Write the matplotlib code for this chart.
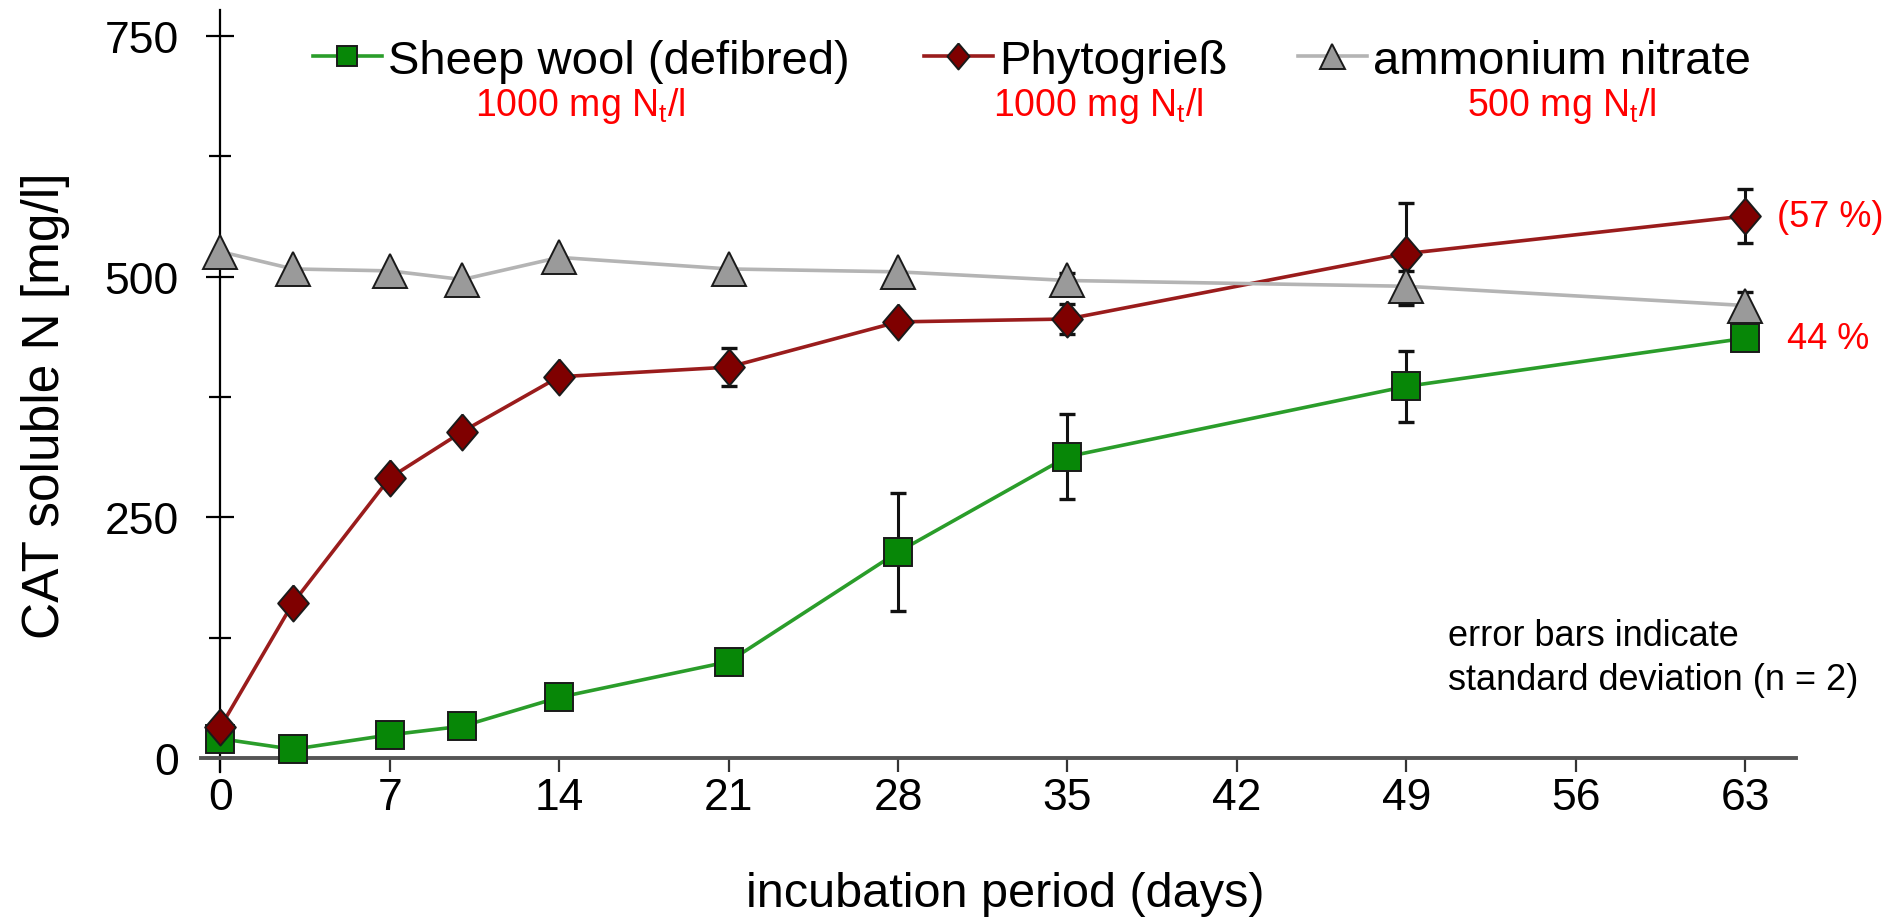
import numpy as np
import matplotlib
matplotlib.use("Agg")
import matplotlib.pyplot as plt

plt.rcParams['font.family'] = ['Liberation Sans', 'DejaVu Sans']
plt.rcParams['mathtext.fontset'] = 'custom'
plt.rcParams['mathtext.rm'] = 'Liberation Sans'
plt.rcParams['mathtext.it'] = 'Liberation Sans:italic'

# incubation days and CAT soluble N (mg/l), means and standard deviations
days = [0, 3, 7, 10, 14, 21, 28, 35, 49, 63]
wool = [20, 9, 24, 33, 63, 100, 214, 313, 386, 436]
wool_sd = [0, 0, 0, 0, 0, 0, 61, 44, 37, 8]
phyto = [32, 161, 291, 339, 396, 406, 453, 456, 524, 563]
phyto_sd = [0, 0, 0, 0, 0, 20, 0, 16, 53, 28]
nitrate = [526, 508, 506, 497, 520, 508, 505, 496, 490, 470]
nitrate_sd = [0, 0, 0, 0, 0, 0, 0, 8, 16, 14]

names = ['Sheep wool (defibred)', 'Phytogrieß', 'ammonium nitrate']
doses = [r'1000 mg N$_{\mathrm{t}}$/l', r'1000 mg N$_{\mathrm{t}}$/l', r'500 mg N$_{\mathrm{t}}$/l']
xticks = list(range(0, 64, 7))

W, H = 1897, 920
fig = plt.figure(figsize=(W / 100, H / 100), dpi=100)
ax = fig.add_axes([201 / W, 1 - 773.4 / H, (1796 - 201) / W, (773.4 - 11) / H])

diamond = [(0, 1), (0.85, 0), (0, -1), (-0.85, 0), (0, 1)]


def draw_series(y, sd, line_c, face_c, marker, ms, label, z):
    ln, = ax.plot(days, y, color=line_c, lw=2.6, marker=marker, ms=ms,
                  mfc=face_c, mec='#1a1a1a', mew=1.4, label=label, zorder=z)
    idx = [i for i, s in enumerate(sd) if s > 0]
    ax.errorbar([days[i] for i in idx], [y[i] for i in idx],
                yerr=[sd[i] for i in idx], fmt='none', ecolor='#111111',
                elinewidth=2.2, capsize=6, capthick=2.4, zorder=z - 0.5)
    return ln


h1 = draw_series(wool, wool_sd, '#2a9d2a', '#078707', 's', 19.5, names[0], 3)
h2 = draw_series(phyto, phyto_sd, '#9a1c1c', '#7f0000', diamond, 26, names[1], 4)
h3 = draw_series(nitrate, nitrate_sd, '#b4b4b4', '#9a9a9a', '^', 25, names[2], 5)

ax.set_xlim(-0.8, 65.1)
ax.set_ylim(-15, 777)
ax.set_xticks(xticks)
ax.set_yticks([0, 250, 500, 750])
ax.set_yticks([125, 375, 625], minor=True)

for s in ['top', 'right']:
    ax.spines[s].set_visible(False)
ax.spines['left'].set_position(('data', 0))
ax.spines['bottom'].set_position(('data', 0))
ax.spines['left'].set_linewidth(1.6)
ax.spines['bottom'].set_linewidth(2.8)
ax.spines['bottom'].set_color('#555555')

ax.tick_params(axis='y', which='major', direction='inout', length=20, width=1.6,
               labelsize=32, pad=20)
ax.tick_params(axis='y', which='minor', direction='inout', length=16, width=1.6)
ax.tick_params(axis='x', direction='out', length=10, width=1.6, color='#333333',
               labelsize=32, pad=4)

# legend entries placed one by one along the top
for h, name, x in zip([h1, h2, h3], names, [313, 924, 1298]):
    fig.legend(handles=[h], labels=[name], loc='center left',
               bbox_to_anchor=(x / W, 1 - 62 / H), frameon=False, fontsize=34,
               handlelength=1.46, handletextpad=0.13, borderpad=0,
               borderaxespad=0, markerscale=0.72)

for d, x in zip(doses, [580, 1098, 1562]):
    fig.text(x / W, 1 - 116 / H, d, ha='center', va='baseline', color='red',
             fontsize=27)

ax.annotate('(57 %)', xy=(days[-1], phyto[-1]), xytext=(23, 0),
            textcoords='offset points', color='red', fontsize=26,
            ha='left', va='center')
ax.annotate('44 %', xy=(days[-1], wool[-1]), xytext=(30, 0),
            textcoords='offset points', color='red', fontsize=26,
            ha='left', va='center')

fig.text(1448 / W, 1 - 646 / H, 'error bars indicate', fontsize=26,
         va='baseline', ha='left')
fig.text(1448 / W, 1 - 690 / H, 'standard deviation (n = 2)', fontsize=26,
         va='baseline', ha='left')

fig.text(46 / W, 1 - 406 / H, 'CAT soluble N [mg/l]', rotation=90,
         ha='center', va='center', fontsize=37)
fig.text(1005 / W, 1 - 895 / H, 'incubation period (days)', ha='center',
         va='center', fontsize=35)

fig.savefig('out.png', dpi=100, facecolor='white')
